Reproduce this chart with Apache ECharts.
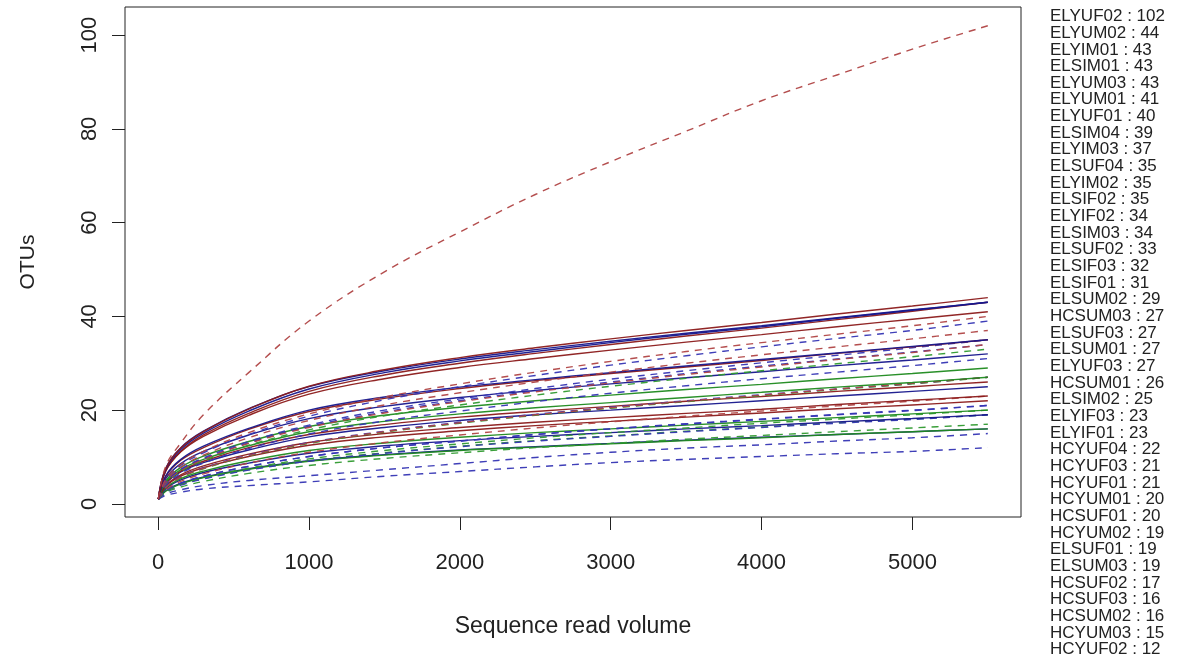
<!DOCTYPE html>
<html>
<head>
<meta charset="utf-8">
<script src="https://cdn.jsdelivr.net/npm/echarts@6/dist/echarts.min.js"></script>
<style>
html,body{margin:0;padding:0;background:#fff;}
#chart{width:1178px;height:663px;}
</style>
</head>
<body>
<div id="chart"></div>
<script>
// sampling depths (sequence read volume) at which each curve is read
const xPoints = [1, 50, 150, 300, 600, 1000, 1500, 2000, 2500, 3000, 3500, 4000, 4500, 5000, 5500];

// OTU counts for each sample
const ELYUF02 = [1, 8, 13, 19, 28, 39, 49.5, 58, 66, 73, 79.5, 86, 91.5, 97, 102];
const ELYUM02 = [1, 7.5, 11.9, 15.4, 20.2, 25.1, 28.6, 31.2, 33.3, 35.2, 37.0, 38.7, 40.5, 42.2, 44];
const ELYIM01 = [1, 7.6, 12, 15.5, 20.3, 25, 28.4, 30.9, 32.9, 34.7, 36.4, 38, 39.7, 41.4, 43];
const ELSIM01 = [1, 7.3, 11.6, 15.1, 19.8, 24.5, 28, 30.5, 32.5, 34.4, 36.2, 37.8, 39.6, 41.3, 43];
const ELYUM03 = [1, 7, 11.2, 14.7, 19.3, 24, 27.5, 30, 32.1, 34, 35.8, 37.5, 39.3, 41.1, 43];
const ELYUM01 = [1, 7, 11.1, 14.4, 18.9, 23.4, 26.7, 29.1, 31.0, 32.8, 34.5, 36.1, 37.8, 39.4, 41];
const ELYUF01 = [1, 5.2, 8.4, 11.2, 15.2, 19.2, 22.8, 25.6, 28.1, 30.4, 32.5, 34.4, 36.2, 38, 40];
const ELSIM04 = [1, 5.1, 8.2, 10.9, 14.8, 18.7, 22.2, 25, 27.4, 29.6, 31.6, 33.5, 35.3, 37, 39];
const ELYIM03 = [1, 4.8, 7.8, 10.4, 14.1, 17.8, 21.1, 23.7, 26, 28.1, 30, 31.8, 33.5, 35.2, 37];
const ELSUF04 = [1, 6, 9.5, 12.3, 16.1, 20, 22.8, 24.9, 26.5, 28, 29.4, 30.8, 32.2, 33.6, 35];
const ELYIM02 = [1, 5.8, 9.3, 12, 15.9, 19.7, 22.5, 24.6, 26.3, 27.8, 29.2, 30.6, 32.1, 33.5, 35];
const ELSIF02 = [1, 4.6, 7.4, 9.8, 13.3, 16.8, 20, 22.4, 24.6, 26.6, 28.4, 30.1, 31.7, 33.3, 35];
const ELYIF02 = [1, 4.4, 7.1, 9.5, 12.9, 16.3, 19.4, 21.8, 23.9, 25.8, 27.6, 29.2, 30.8, 32.3, 34];
const ELSIM03 = [1, 4.5, 7.2, 9.6, 13, 16.5, 19.6, 22, 24.1, 26, 27.8, 29.4, 30.9, 32.4, 34];
const ELSUF02 = [1, 4.3, 6.9, 9.2, 12.5, 15.8, 18.8, 21.1, 23.2, 25.1, 26.8, 28.4, 29.9, 31.4, 33];
const ELSIF03 = [1, 5.4, 8.6, 11.2, 14.7, 18.2, 20.8, 22.7, 24.2, 25.6, 26.9, 28.2, 29.5, 30.7, 32];
const ELSIF01 = [1, 4, 6.5, 8.7, 11.8, 14.9, 17.7, 19.8, 21.8, 23.6, 25.2, 26.7, 28.1, 29.5, 31];
const ELSUM02 = [1, 4.9, 7.8, 10.2, 13.3, 16.5, 18.9, 20.6, 22, 23.2, 24.4, 25.5, 26.7, 27.8, 29];
const HCSUM03 = [1, 4.6, 7.3, 9.5, 12.4, 15.4, 17.6, 19.2, 20.5, 21.6, 22.7, 23.8, 24.9, 25.9, 27];
const ELSUF03 = [1, 3.5, 5.7, 7.6, 10.3, 13, 15.4, 17.3, 19, 20.5, 21.9, 23.2, 24.5, 25.7, 27];
const ELSUM01 = [1, 3.6, 5.8, 7.7, 10.4, 13.1, 15.5, 17.4, 19.1, 20.6, 22, 23.3, 24.5, 25.7, 27];
const ELYUF03 = [1, 3.5, 5.6, 7.5, 10.2, 12.9, 15.3, 17.2, 18.9, 20.4, 21.8, 23.1, 24.4, 25.6, 27];
const HCSUM01 = [1, 4.4, 7, 9.1, 12, 14.8, 16.9, 18.5, 19.7, 20.8, 21.9, 22.9, 24, 25, 26];
const ELSIM02 = [1, 4.3, 6.8, 8.8, 11.5, 14.3, 16.3, 17.8, 19, 20, 21, 22, 23, 24, 25];
const ELYIF03 = [1, 3.9, 6.2, 8.1, 10.6, 13.1, 15, 16.3, 17.4, 18.4, 19.3, 20.2, 21.2, 22.1, 23];
const ELYIF01 = [1, 3, 4.8, 6.4, 8.7, 11, 13.1, 14.7, 16.2, 17.5, 18.7, 19.8, 20.9, 21.9, 23];
const HCYUF04 = [1, 3.7, 5.9, 7.7, 10.1, 12.5, 14.3, 15.6, 16.7, 17.6, 18.5, 19.4, 20.3, 21.1, 22];
const HCYUF03 = [1, 2.9, 4.4, 5.9, 8, 10.1, 12, 13.4, 14.8, 16, 17.1, 18.1, 19.1, 20, 21];
const HCYUF01 = [1, 2.8, 4.4, 5.9, 8, 10.1, 12, 13.4, 14.8, 16, 17, 18, 19, 19.9, 21];
const HCYUM01 = [1, 3.4, 5.4, 7, 9.2, 11.4, 13, 14.2, 15.2, 16, 16.8, 17.6, 18.4, 19.2, 20];
const HCSUF01 = [1, 2.6, 4.2, 5.6, 7.6, 9.6, 11.4, 12.8, 14.1, 15.2, 16.2, 17.2, 18.1, 19, 20];
const HCYUM02 = [1, 3.2, 5.1, 6.7, 8.7, 10.8, 12.4, 13.5, 14.4, 15.2, 16, 16.7, 17.5, 18.2, 19];
const ELSUF01 = [1, 2.5, 4, 5.3, 7.2, 9.1, 10.8, 12.2, 13.4, 14.4, 15.4, 16.3, 17.2, 18, 19];
const ELSUM03 = [1, 2.6, 4.1, 5.4, 7.3, 9.2, 10.9, 12.3, 13.5, 14.5, 15.5, 16.4, 17.3, 18.1, 19];
const HCSUF02 = [1, 2.4, 3.6, 4.8, 6.5, 8.2, 9.7, 10.9, 12, 12.9, 13.8, 14.6, 15.4, 16.2, 17];
const HCSUF03 = [1, 2.7, 4.3, 5.6, 7.4, 9.1, 10.4, 11.4, 12.1, 12.8, 13.5, 14.1, 14.8, 15.4, 16];
const HCSUM02 = [1, 2.8, 4.4, 5.7, 7.5, 9.2, 10.5, 11.5, 12.2, 12.9, 13.6, 14.2, 14.8, 15.4, 16];
const HCYUM03 = [1, 2.1, 3, 3.9, 5, 6, 7.3, 8.6, 9.9, 11, 11.9, 12.6, 13.4, 14.1, 15];
const HCYUF02 = [1, 1.8, 2.5, 3.2, 3.9, 4.7, 5.9, 6.9, 7.9, 8.8, 9.5, 10.1, 10.7, 11.2, 12];

// legend entries (sample name and total OTUs), in legend order
const sampleNames = ['ELYUF02','ELYUM02','ELYIM01','ELSIM01','ELYUM03','ELYUM01','ELYUF01','ELSIM04','ELYIM03','ELSUF04','ELYIM02','ELSIF02','ELYIF02','ELSIM03','ELSUF02','ELSIF03','ELSIF01','ELSUM02','HCSUM03','ELSUF03','ELSUM01','ELYUF03','HCSUM01','ELSIM02','ELYIF03','ELYIF01','HCYUF04','HCYUF03','HCYUF01','HCYUM01','HCSUF01','HCYUM02','ELSUF01','ELSUM03','HCSUF02','HCSUF03','HCSUM02','HCYUM03','HCYUF02'];
const sampleTotals = [102,44,43,43,43,41,40,39,37,35,35,35,34,34,33,32,31,29,27,27,27,27,26,25,23,23,22,21,21,20,20,19,19,19,17,16,16,15,12];
const sampleCurves = [ELYUF02,ELYUM02,ELYIM01,ELSIM01,ELYUM03,ELYUM01,ELYUF01,ELSIM04,ELYIM03,ELSUF04,ELYIM02,ELSIF02,ELYIF02,ELSIM03,ELSUF02,ELSIF03,ELSIF01,ELSUM02,HCSUM03,ELSUF03,ELSUM01,ELYUF03,HCSUM01,ELSIM02,ELYIF03,ELYIF01,HCYUF04,HCYUF03,HCYUF01,HCYUM01,HCSUF01,HCYUM02,ELSUF01,ELSUM03,HCSUF02,HCSUF03,HCSUM02,HCYUM03,HCYUF02];

// tick values
const xTicks = [0, 1000, 2000, 3000, 4000, 5000];
const yTicks = [0, 20, 40, 60, 80, 100];

// styles (kept apart from data): r = dark red, b = dark blue, g = green; S solid, D dashed
const sampleStyle = ['rD','rS','bS','bS','rS','rS','rD','bD','rD','bS','rS','bD','rD','bD','gD','bS','bD','gS','gS','rD','bD','gD','rS','bS','rS','rD','rS','bD','bD','gS','gD','bS','bD','gD','gD','gS','bS','bD','bD'];
const palette = {
  rS: '#8b1a1a', rD: '#b04444',
  bS: '#16168c', bD: '#3535b4',
  gS: '#1e8a1e', gD: '#2f9a2f'
};

const series = sampleCurves.map((ys, i) => {
  const st = sampleStyle[i];
  const dashed = st[1] === 'D';
  return {
    name: sampleNames[i],
    type: 'line',
    data: xPoints.map((x, k) => [x, ys[k]]),
    showSymbol: false,
    symbol: 'none',
    smooth: 0.4,
    silent: true,
    z: 2 + (sampleCurves.length - i) / 100,
    lineStyle: {
      color: palette[st],
      width: 1.4,
      type: dashed ? [7, 6] : 'solid',
      opacity: 0.95
    }
  };
});

const legendText = sampleNames.map((n, i) => n + ' : ' + sampleTotals[i]).join('\n');

const chart = echarts.init(document.getElementById('chart'), null, { renderer: 'canvas' });
const FONT = 'Liberation Sans, Arial, Helvetica, sans-serif';
chart.setOption({
  animation: false,
  backgroundColor: '#fff',
  grid: {
    left: 125, top: 7, width: 896, height: 510,
    show: true, borderColor: '#222', borderWidth: 1, backgroundColor: 'transparent'
  },
  xAxis: {
    type: 'value',
    min: -220, max: 5720,
    name: 'Sequence read volume',
    nameLocation: 'middle',
    nameGap: 98,
    nameTextStyle: { fontFamily: FONT, fontSize: 23, color: '#222' },
    axisLine: { show: false, onZero: false },
    splitLine: { show: false },
    axisTick: { show: true, inside: false, length: 13, lineStyle: { color: '#222', width: 1 }, customValues: xTicks },
    axisLabel: { show: true, fontFamily: FONT, fontSize: 22, color: '#222', margin: 35, customValues: xTicks, formatter: v => String(v) }
  },
  yAxis: {
    type: 'value',
    min: -2.8, max: 106,
    name: 'OTUs',
    nameLocation: 'middle',
    nameRotate: 90,
    nameGap: 86,
    nameTextStyle: { fontFamily: FONT, fontSize: 21, color: '#222' },
    axisLine: { show: false, onZero: false },
    splitLine: { show: false },
    axisTick: { show: true, inside: false, length: 13, lineStyle: { color: '#222', width: 1 }, customValues: yTicks },
    axisLabel: { show: true, rotate: 90, fontFamily: FONT, fontSize: 22, color: '#222', margin: 24, customValues: yTicks, formatter: v => String(v) }
  },
  graphic: [{
    type: 'text',
    left: 1050,
    top: 8,
    silent: true,
    style: {
      text: legendText,
      fontFamily: FONT,
      fontSize: 17,
      lineHeight: 16.66,
      fill: '#222'
    }
  }],
  series: series
});
</script>
</body>
</html>
